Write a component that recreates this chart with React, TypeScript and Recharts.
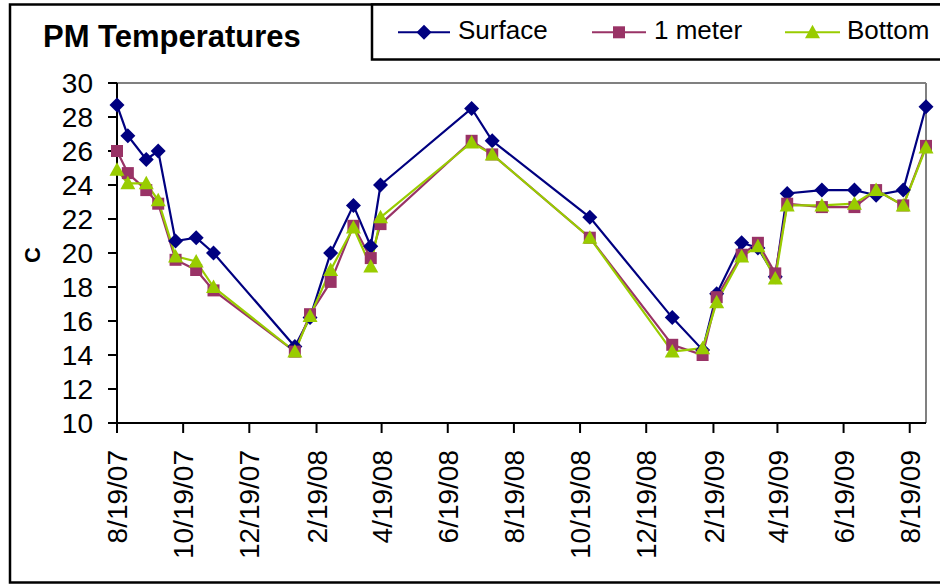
import React from 'react';
import { LineChart, Line, XAxis, YAxis, ReferenceLine } from 'recharts';

// Sampling dates (M/D/YY)
const sampleDates = [
  '8/19/07', '8/29/07', '9/15/07', '9/26/07', '10/12/07', '10/31/07', '11/16/07',
  '1/30/08', '2/13/08', '3/3/08', '3/24/08', '4/9/08', '4/18/08', '7/11/08', '7/30/08',
  '10/28/08', '1/12/09', '2/9/09', '2/22/09', '3/17/09', '4/1/09', '4/17/09', '4/28/09',
  '5/30/09', '6/29/09', '7/19/09', '8/13/09', '9/3/09',
];

// Afternoon water temperatures, degrees C
const surfaceTemps = [
  28.7, 26.9, 25.5, 26.0, 20.7, 20.9, 20.0,
  14.5, 16.2, 20.0, 22.8, 20.4, 24.0, 28.5, 26.6,
  22.1, 16.2, 14.3, 17.6, 20.6, 20.3, 18.6, 23.5,
  23.7, 23.7, 23.4, 23.7, 28.6,
];
const oneMeterTemps = [
  26.0, 24.7, 23.7, 22.9, 19.6, 19.0, 17.8,
  14.2, 16.4, 18.3, 21.6, 19.7, 21.7, 26.6, 25.8,
  20.9, 14.6, 14.0, 17.4, 19.9, 20.6, 18.8, 22.9,
  22.7, 22.7, 23.7, 22.8, 26.3,
];
const bottomTemps = [
  24.9, 24.1, 24.1, 23.1, 19.8, 19.5, 18.0,
  14.2, 16.3, 19.0, 21.5, 19.2, 22.1, 26.5, 25.8,
  20.9, 14.2, 14.4, 17.1, 19.8, 20.4, 18.5, 22.8,
  22.8, 22.9, 23.7, 22.8, 26.2,
];

const xTickLabels = [
  '8/19/07', '10/19/07', '12/19/07', '2/19/08', '4/19/08', '6/19/08', '8/19/08',
  '10/19/08', '12/19/08', '2/19/09', '4/19/09', '6/19/09', '8/19/09',
];
const yTicks = [10, 12, 14, 16, 18, 20, 22, 24, 26, 28, 30];

const FONT = '"Liberation Sans", Arial, Helvetica, sans-serif';

const toTime = (s: string) => {
  const [m, d, y] = s.split('/').map(Number);
  return Date.UTC(2000 + y, m - 1, d);
};
const formatDate = (t: number) => {
  const dt = new Date(t);
  const yy = String(dt.getUTCFullYear() % 100).padStart(2, '0');
  return `${dt.getUTCMonth() + 1}/${dt.getUTCDate()}/${yy}`;
};

const data = sampleDates.map((d, i) => ({
  t: toTime(d),
  surface: surfaceTemps[i],
  oneMeter: oneMeterTemps[i],
  bottom: bottomTemps[i],
}));
const xTicks = xTickLabels.map(toTime);
const xMin = data[0].t;
const xMax = data[data.length - 1].t;

type Shape = 'diamond' | 'square' | 'triangle';

const series: { key: string; name: string; color: string; shape: Shape }[] = [
  { key: 'surface', name: 'Surface', color: '#000080', shape: 'diamond' },
  { key: 'oneMeter', name: '1 meter', color: '#993366', shape: 'square' },
  { key: 'bottom', name: 'Bottom', color: '#99CC00', shape: 'triangle' },
];

function Marker({ shape, cx, cy, color }: { shape: Shape; cx: number; cy: number; color: string }) {
  if (cx == null || cy == null) return null;
  if (shape === 'diamond') {
    return <path d={`M${cx},${cy - 7.5}L${cx + 7.5},${cy}L${cx},${cy + 7.5}L${cx - 7.5},${cy}Z`} fill={color} />;
  }
  if (shape === 'square') {
    return <rect x={cx - 6} y={cy - 6} width={12} height={12} fill={color} />;
  }
  return <path d={`M${cx},${cy - 7.5}L${cx + 7.5},${cy + 6}L${cx - 7.5},${cy + 6}Z`} fill={color} />;
}

const DateTick = (props: any) => {
  const { x, y, payload } = props;
  return (
    <text
      x={x}
      y={y}
      transform={`rotate(-90, ${x}, ${y})`}
      textAnchor="end"
      dy="0.36em"
      fontSize={28}
      fontFamily={FONT}
      fill="#000"
    >
      {formatDate(payload.value)}
    </text>
  );
};

const legendItems = [
  { lineX1: 398, lineX2: 450, textX: 458 },
  { lineX1: 592, lineX2: 646, textX: 654 },
  { lineX1: 785, lineX2: 840, textX: 847 },
];

export default function App() {
  return (
    <div
      style={{
        position: 'absolute',
        left: 0,
        top: 0,
        width: 940,
        height: 586,
        overflow: 'hidden',
        background: '#fff',
      }}
    >
      <div style={{ position: 'absolute', left: 0, top: 0 }}>
        <LineChart
          width={940}
          height={586}
          data={data}
          margin={{ top: 83, right: 14, bottom: 0, left: 0 }}
          style={{ fontFamily: FONT }}
        >
          <XAxis
            dataKey="t"
            type="number"
            scale="time"
            domain={[xMin, xMax]}
            ticks={xTicks}
            interval={0}
            height={163}
            tickSize={10}
            tickMargin={17}
            tick={<DateTick />}
            axisLine={{ stroke: '#000', strokeWidth: 2 }}
            tickLine={{ stroke: '#000', strokeWidth: 2 }}
          />
          <YAxis
            type="number"
            domain={[10, 30]}
            ticks={yTicks}
            interval={0}
            width={117}
            tickSize={9}
            tickMargin={15}
            tick={{ fontSize: 28, fill: '#000', fontFamily: FONT }}
            axisLine={{ stroke: '#000', strokeWidth: 2 }}
            tickLine={{ stroke: '#000', strokeWidth: 2 }}
          />
          <ReferenceLine y={30} stroke="#808080" strokeWidth={2} />
          <ReferenceLine x={xMax} stroke="#808080" strokeWidth={2} />
          {series.map((s) => (
            <Line
              key={s.key}
              dataKey={s.key}
              name={s.name}
              stroke={s.color}
              strokeWidth={2.2}
              isAnimationActive={false}
              dot={(p: any) => (
                <Marker key={`${s.key}-${p.index}`} shape={s.shape} cx={p.cx} cy={p.cy} color={s.color} />
              )}
              activeDot={false}
            />
          ))}
        </LineChart>
      </div>
      <svg
        width={940}
        height={586}
        style={{ position: 'absolute', left: 0, top: 0, pointerEvents: 'none' }}
      >
        {/* outer frame */}
        <rect x={10} y={4.5} width={960} height={578} fill="none" stroke="#000" strokeWidth={2.5} />
        {/* title */}
        <text x={43} y={46.5} fontSize={31} fontWeight="bold" fontFamily={FONT} fill="#000">
          PM Temperatures
        </text>
        {/* y axis title */}
        <text
          x={32}
          y={255}
          transform="rotate(-90, 32, 255)"
          textAnchor="middle"
          dy="0.36em"
          fontSize={22}
          fontWeight="bold"
          fontFamily={FONT}
          fill="#000"
        >
          C
        </text>
        {/* legend */}
        <rect x={372} y={4.5} width={600} height={55} fill="#fff" stroke="#000" strokeWidth={2.5} />
        {series.map((s, i) => {
          const it = legendItems[i];
          const cx = (it.lineX1 + it.lineX2) / 2;
          return (
            <g key={s.key}>
              <line x1={it.lineX1} y1={32.3} x2={it.lineX2} y2={32.3} stroke={s.color} strokeWidth={2} />
              <Marker shape={s.shape} cx={cx} cy={32.3} color={s.color} />
              <text x={it.textX} y={38.5} fontSize={26} fontFamily={FONT} fill="#000">
                {s.name}
              </text>
            </g>
          );
        })}
      </svg>
    </div>
  );
}
